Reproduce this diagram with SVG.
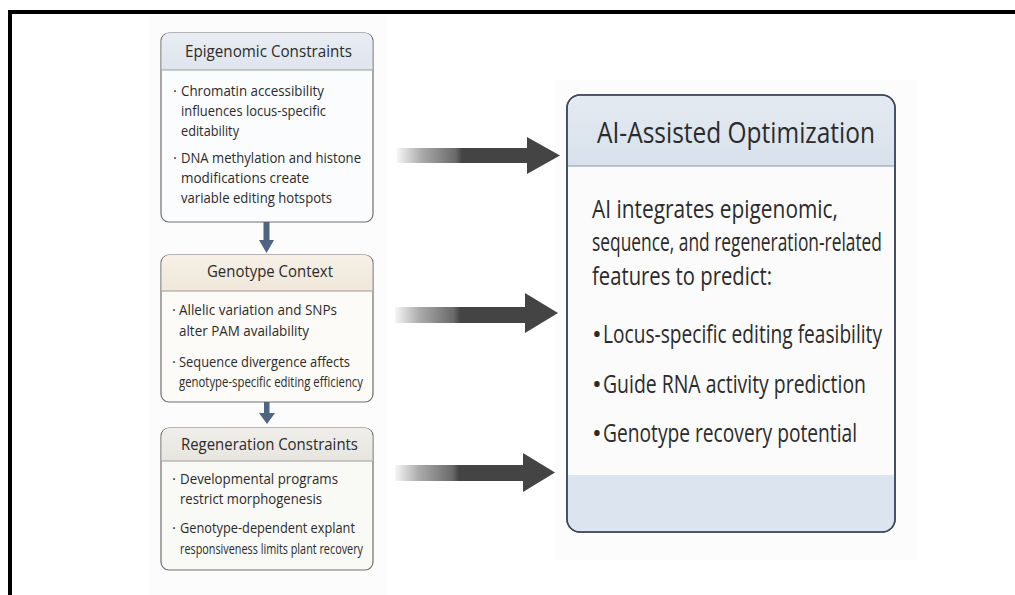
<svg xmlns="http://www.w3.org/2000/svg" width="1015" height="595" viewBox="0 0 1015 595">
<defs>
<linearGradient id="fade" x1="0" y1="0" x2="1" y2="0">
<stop offset="0" stop-color="#444" stop-opacity="0.05"/>
<stop offset="0.15" stop-color="#444" stop-opacity="0.45"/>
<stop offset="0.36" stop-color="#444" stop-opacity="0.8"/>
<stop offset="0.4" stop-color="#444" stop-opacity="1"/>
<stop offset="1" stop-color="#444" stop-opacity="1"/>
</linearGradient>
<linearGradient id="hBlue" x1="0" y1="0" x2="0" y2="1">
<stop offset="0" stop-color="#e9edf3"/><stop offset="1" stop-color="#dfe5ed"/>
</linearGradient>
<linearGradient id="hTan" x1="0" y1="0" x2="0" y2="1">
<stop offset="0" stop-color="#f6f0e6"/><stop offset="1" stop-color="#efe7da"/>
</linearGradient>
<linearGradient id="hGray" x1="0" y1="0" x2="0" y2="1">
<stop offset="0" stop-color="#efeeea"/><stop offset="1" stop-color="#e6e5e0"/>
</linearGradient>
<linearGradient id="hBig" x1="0" y1="0" x2="0" y2="1">
<stop offset="0" stop-color="#e4eaf1"/><stop offset="1" stop-color="#d8e1ec"/>
</linearGradient>
<style>
text{font-family:"Open Sans","Noto Sans",sans-serif;fill:#2b2b2b}
.hd{font-size:17px;text-anchor:start}
.bt{font-size:15px}
.bh{font-size:29px}
.bb{font-size:26px}
.bx{stroke:#6e6e6e;stroke-width:1.2}
.sep{stroke:#9a9a9a;stroke-width:1}
.va{fill:#4e6480}
</style>
</defs>
<rect width="1015" height="595" fill="#ffffff"/>
<rect x="150" y="16" width="236" height="579" fill="#fcfcfc"/>
<rect x="555" y="80" width="362" height="480" fill="#fcfcfc"/>
<rect x="10" y="12" width="1100" height="700" fill="none" stroke="#000" stroke-width="4"/>

<g id="node-epigenomic">
<rect class="bx" x="161" y="33" width="212" height="189" rx="8" fill="#fbfcfd"/>
<path d="M161.6 70 V41 a8 8 0 0 1 8 -8 H364.4 a8 8 0 0 1 8 8 V70 Z" fill="url(#hBlue)"/>
<line class="sep" x1="161.6" y1="70" x2="372.4" y2="70"/>
<text class="hd" x="185" y="57" textLength="167" lengthAdjust="spacingAndGlyphs">Epigenomic Constraints</text>
<text class="bt" x="173" y="96">·</text>
<text class="bt" x="181" y="96" textLength="143" lengthAdjust="spacingAndGlyphs">Chromatin accessibility</text>
<text class="bt" x="181" y="116" textLength="145" lengthAdjust="spacingAndGlyphs">influences locus-specific</text>
<text class="bt" x="181" y="136" textLength="58" lengthAdjust="spacingAndGlyphs">editability</text>
<text class="bt" x="173" y="163">·</text>
<text class="bt" x="181" y="163" textLength="180" lengthAdjust="spacingAndGlyphs">DNA methylation and histone</text>
<text class="bt" x="181" y="183" textLength="128" lengthAdjust="spacingAndGlyphs">modifications create</text>
<text class="bt" x="181" y="203" textLength="151" lengthAdjust="spacingAndGlyphs">variable editing hotspots</text>
</g>

<g id="node-genotype">
<rect class="bx" x="161" y="255" width="212" height="147" rx="8" fill="#fdfbf8"/>
<path d="M161.6 291 V263 a8 8 0 0 1 8 -8 H364.4 a8 8 0 0 1 8 8 V291 Z" fill="url(#hTan)"/>
<line class="sep" x1="161.6" y1="291" x2="372.4" y2="291"/>
<text class="hd" x="207" y="277" textLength="126" lengthAdjust="spacingAndGlyphs">Genotype Context</text>
<text class="bt" x="172" y="315">·</text>
<text class="bt" x="179" y="315" textLength="158" lengthAdjust="spacingAndGlyphs">Allelic variation and SNPs</text>
<text class="bt" x="179" y="336" textLength="130" lengthAdjust="spacingAndGlyphs">alter PAM availability</text>
<text class="bt" x="172" y="367">·</text>
<text class="bt" x="179" y="367" textLength="171" lengthAdjust="spacingAndGlyphs">Sequence divergence affects</text>
<text class="bt" x="179" y="387" textLength="184" lengthAdjust="spacingAndGlyphs">genotype-specific editing efficiency</text>
</g>

<g id="node-regeneration">
<rect class="bx" x="161" y="428" width="212" height="142" rx="8" fill="#f9f9f6"/>
<path d="M161.6 461 V436 a8 8 0 0 1 8 -8 H364.4 a8 8 0 0 1 8 8 V461 Z" fill="url(#hGray)"/>
<line class="sep" x1="161.6" y1="461" x2="372.4" y2="461"/>
<text class="hd" x="181" y="450" textLength="177" lengthAdjust="spacingAndGlyphs">Regeneration Constraints</text>
<text class="bt" x="172" y="484">·</text>
<text class="bt" x="180" y="484" textLength="158" lengthAdjust="spacingAndGlyphs">Developmental programs</text>
<text class="bt" x="180" y="504" textLength="142" lengthAdjust="spacingAndGlyphs">restrict morphogenesis</text>
<text class="bt" x="172" y="533">·</text>
<text class="bt" x="180" y="533" textLength="175" lengthAdjust="spacingAndGlyphs">Genotype-dependent explant</text>
<text class="bt" x="180" y="554" textLength="183" lengthAdjust="spacingAndGlyphs">responsiveness limits plant recovery</text>
</g>

<g id="node-ai">
<rect x="567" y="95" width="328" height="437" rx="13" fill="#fbfbfc" stroke="#3e4a5c" stroke-width="1.6"/>
<path d="M567.8 166 V108 a12.2 12.2 0 0 1 12.2 -12.2 H882 a12.2 12.2 0 0 1 12.2 12.2 V166 Z" fill="url(#hBig)"/>
<line x1="567.8" y1="166" x2="894.2" y2="166" stroke="#8a96a6" stroke-width="1.2"/>
<path d="M567.8 475 H894.2 V519 a12.2 12.2 0 0 1 -12.2 12.2 H580 a12.2 12.2 0 0 1 -12.2 -12.2 Z" fill="#dce5ef"/>
<rect x="567" y="95" width="328" height="437" rx="13" fill="none" stroke="#3e4a5c" stroke-width="1.6"/>
<text class="bh" x="597" y="143" textLength="278" lengthAdjust="spacingAndGlyphs">AI-Assisted Optimization</text>
<text class="bb" x="592" y="218" textLength="246" lengthAdjust="spacingAndGlyphs">AI integrates epigenomic,</text>
<text class="bb" x="592" y="251" textLength="290" lengthAdjust="spacingAndGlyphs">sequence, and regeneration-related</text>
<text class="bb" x="592" y="285" textLength="180" lengthAdjust="spacingAndGlyphs">features to predict:</text>
<text class="bb" x="592" y="343">•</text>
<text class="bb" x="603" y="343" textLength="279" lengthAdjust="spacingAndGlyphs">Locus-specific editing feasibility</text>
<text class="bb" x="592" y="393">•</text>
<text class="bb" x="603" y="393" textLength="263" lengthAdjust="spacingAndGlyphs">Guide RNA activity prediction</text>
<text class="bb" x="592" y="442">•</text>
<text class="bb" x="603" y="442" textLength="254" lengthAdjust="spacingAndGlyphs">Genotype recovery potential</text>
</g>

<g id="connectors">
<polygon class="va" points="263.5,222 269.5,222 269.5,240 274,240 266.5,253 259,240 263.5,240"/>
<polygon class="va" points="264,402 269.5,402 269.5,413 275,413 267,424 259,413 264,413"/>
<polygon fill="url(#fade)" points="397,148 527,148 527,137 560,155.5 527,174 527,163 397,163"/>
<polygon fill="url(#fade)" points="395,307 525,307 525,293 558,313 525,333 525,323 395,323"/>
<polygon fill="url(#fade)" points="395,465 523,465 523,453 555,472.5 523,492 523,481 395,481"/>
</g>
</svg>
